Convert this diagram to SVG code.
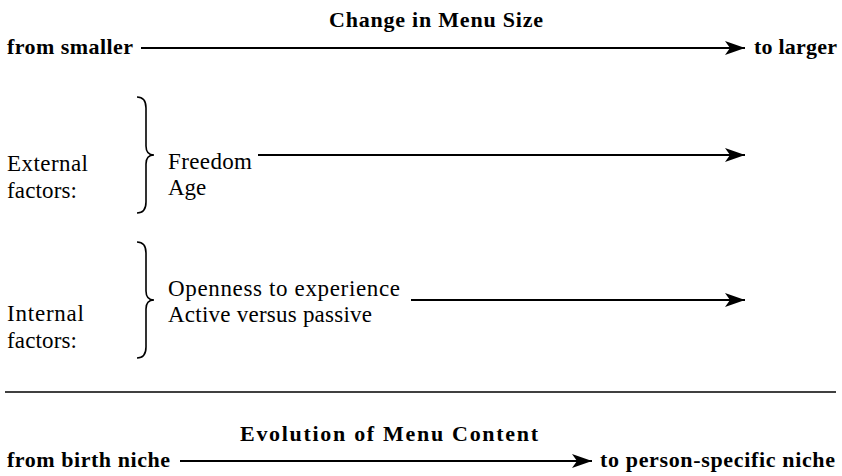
<svg xmlns="http://www.w3.org/2000/svg" width="842" height="476" viewBox="0 0 842 476">
<style>
text{font-family:"Liberation Serif",serif;font-size:23px;fill:#000}
.b{font-weight:bold;font-size:22px}
.ln{stroke:#000;stroke-width:2;fill:none}
.br{stroke:#000;stroke-width:1.6;fill:none}
</style>
<defs>
<marker id="ah" viewBox="0 0 20 14" refX="20" refY="7" markerWidth="20" markerHeight="14" markerUnits="userSpaceOnUse" orient="auto">
<path d="M0,0 L20,7 L0,14 L5,7 Z" fill="#000"/>
</marker>
</defs>
<rect width="842" height="476" fill="#fff"/>
<g id="top-title"><text class="b" x="329" y="27" textLength="214">Change in Menu Size</text></g>
<g id="from-smaller"><text class="b" x="7" y="54" textLength="126">from smaller</text></g>
<g id="to-larger"><text class="b" x="754" y="54" textLength="83">to larger</text></g>
<g id="external">
<text x="7" y="171" textLength="81">External</text>
<text x="7" y="198" textLength="70">factors:</text>
<path class="br" d="M137,97 Q146,97 146,108 L146,146 Q146,155 154,155 Q146,155 146,164 L146,202 Q146,213 137,213"/>
<text x="168" y="169" textLength="84">Freedom</text>
<text x="168" y="195">Age</text>
</g>
<g id="internal">
<text x="7" y="321" textLength="77">Internal</text>
<text x="7" y="348" textLength="70">factors:</text>
<path class="br" d="M137,242 Q146,242 146,253 L146,291 Q146,300 154,300 Q146,300 146,309 L146,347 Q146,358 137,358"/>
<text x="168" y="296" textLength="232">Openness to experience</text>
<text x="168" y="322" textLength="204">Active versus passive</text>
</g>
<g id="bottom-title"><text class="b" x="240" y="441" textLength="298">Evolution of Menu Content</text></g>
<g id="from-birth"><text class="b" x="7" y="467" textLength="163">from birth niche</text></g>
<g id="to-person"><text class="b" x="600" y="467" textLength="235">to person-specific niche</text></g>
<g id="connectors">
<line class="ln" x1="141" y1="48" x2="745" y2="48" marker-end="url(#ah)"/>
<line class="ln" x1="258" y1="155" x2="745" y2="155" marker-end="url(#ah)"/>
<line class="ln" x1="411" y1="300" x2="745" y2="300" marker-end="url(#ah)"/>
<line class="ln" x1="180" y1="461" x2="592" y2="461" marker-end="url(#ah)"/>
<line x1="5" y1="392" x2="836" y2="392" stroke="#000" stroke-width="1.4"/>
</g>
</svg>
